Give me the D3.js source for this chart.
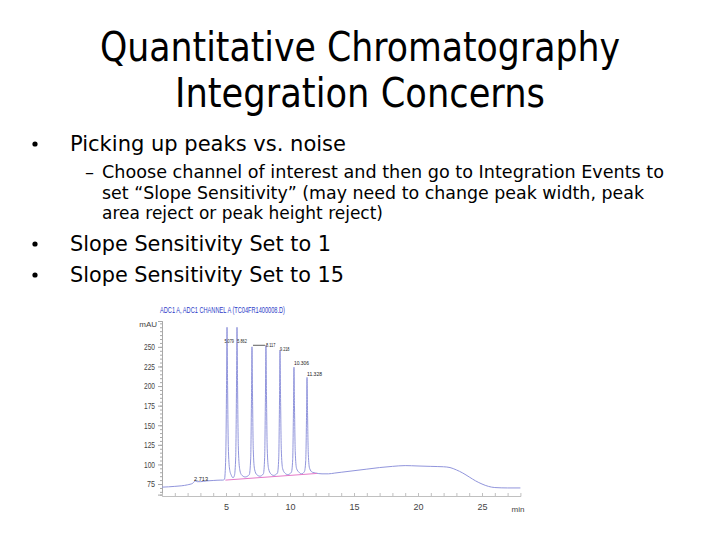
<!DOCTYPE html>
<html>
<head>
<meta charset="utf-8">
<script src="https://cdn.jsdelivr.net/npm/d3@7"></script>
<style>
  body { margin: 0; background: #fff; }
  svg { display: block; }
</style>
</head>
<body>
<div id="chartgoeshere"></div>
<script>
// Slide text
var titleLines = ["Quantitative Chromatography", "Integration Concerns"];
var bullets = ["Picking up peaks vs. noise", "Slope Sensitivity Set to 1", "Slope Sensitivity Set to 15"];
var subLines = [
  "Choose channel of interest and then go to Integration Events to",
  "set \u201cSlope Sensitivity\u201d (may need to change peak width, peak",
  "area reject or peak height reject)"
];

// Chromatogram trace (min, mAU)
var traceTime = [0, 1, 2, 2.4, 2.6, 2.75, 3.0, 3.5, 4.0, 4.6,
  4.75, 4.88, 4.98, 5.04, 5.08, 5.12, 5.18, 5.28, 5.42,
  5.55, 5.66, 5.76, 5.82, 5.86, 5.90, 5.96, 6.06, 6.2,
  6.5, 6.82, 6.93, 6.99, 7.03, 7.07, 7.13, 7.23, 7.4,
  7.65, 7.92, 8.02, 8.08, 8.12, 8.16, 8.22, 8.32, 8.5,
  8.72, 9.02, 9.12, 9.18, 9.22, 9.26, 9.32, 9.42, 9.6,
  9.82, 10.11, 10.21, 10.27, 10.31, 10.35, 10.41, 10.51, 10.7,
  10.9, 11.13, 11.23, 11.29, 11.33, 11.37, 11.43, 11.53, 11.75,
  12.0, 12.5, 13.0, 13.5, 14, 15, 16, 17, 18, 19, 20, 21, 22, 22.5,
  23, 23.5, 24, 24.5, 25, 25.5, 26, 27, 28];
var traceSignal = [71, 72, 74, 76, 79, 78, 78, 79, 79.5, 80,
  80, 81, 109, 197, 275, 207, 123, 94, 86,
  83, 86, 110, 198, 275, 207, 124, 95, 87,
  84, 87, 108, 183, 250, 191, 119, 94, 87,
  85, 88, 109, 185, 252, 193, 120, 95, 88,
  86, 89, 108, 181, 246, 189, 119, 95, 89,
  87, 90, 106, 168, 224, 175, 116, 95, 90,
  88, 91, 105, 160, 211, 166, 113, 95, 90,
  89, 88, 88, 89, 90, 92, 94, 96, 97.5, 98.5, 98, 97.5, 97, 96,
  93, 89, 84, 79, 75, 72, 70.5, 70, 70];

// Integration baseline start / end (min, mAU)
var baseTime = [4.95, 12.1];
var baseSignal = [80, 88.5];

// Peak labels (retention times)
var peakTimes = [4.88, 5.88, 7.03, 8.117, 9.218, 10.306, 11.328];
var peakLabels = ["5.079", "5.862", "", "8.117", "9.218", "10.306", "11.328"];
var labelSignal = [257, 257, 252, 252, 247, 229, 216];
var bumpTime = 2.5, bumpSignal = 81, bumpLabel = "2.713";

var yTicks = [75, 100, 125, 150, 175, 200, 225, 250];
var xTicks = [5, 10, 15, 20, 25];

var width = 720, height = 540;
var svg = d3.select("#chartgoeshere").append("svg")
  .attr("width", width).attr("height", height);

var slideFont = "Tahoma, 'DejaVu Sans', sans-serif";

// Title
svg.selectAll(".title")
  .data(titleLines)
  .enter().append("text")
  .attr("x", 360)
  .attr("y", function (d, i) { return 61 + i * 46; })
  .attr("text-anchor", "middle")
  .attr("font-family", slideFont)
  .attr("font-size", 40)
  .attr("textLength", function (d, i) { return i === 0 ? 520 : 370; })
  .attr("lengthAdjust", "spacingAndGlyphs")
  .text(function (d) { return d; });

// Main bullets
var bulletY = [151, 251, 282];
var bulletW = [276, 261, 274];
bullets.forEach(function (b, i) {
  svg.append("circle").attr("cx", 35).attr("cy", bulletY[i] - 7).attr("r", 2.6).attr("fill", "#000");
  svg.append("text")
    .attr("x", 70).attr("y", bulletY[i])
    .attr("font-family", slideFont).attr("font-size", 22)
    .attr("textLength", bulletW[i]).attr("lengthAdjust", "spacingAndGlyphs")
    .text(b);
});

// Sub bullet
var subY = [178, 199, 219];
var subW = [562, 542, 281];
svg.append("text").attr("x", 85).attr("y", subY[0])
  .attr("font-family", slideFont).attr("font-size", 18).text("\u2013");
subLines.forEach(function (s, i) {
  svg.append("text")
    .attr("x", 102).attr("y", subY[i])
    .attr("font-family", slideFont).attr("font-size", 18)
    .attr("textLength", subW[i]).attr("lengthAdjust", "spacingAndGlyphs")
    .text(s);
});

// Chromatogram scales
var x = d3.scaleLinear().domain([0, 28]).range([162, 520.4]);
var y = d3.scaleLinear().domain([61.5, 283]).range([494.6, 321]);

var chartFont = "Arial, 'Liberation Sans', sans-serif";

// Y axis with minor ticks
var gy = svg.append("g").attr("transform", "translate(162,0)");
gy.call(d3.axisLeft(y).tickValues(d3.range(65, 281, 5)).tickSize(2).tickFormat(""));
gy.append("g").call(d3.axisLeft(y).tickValues(yTicks).tickSize(4).tickFormat(d3.format("d")));
gy.selectAll("path, line").attr("stroke", "#a8a8a8");
gy.selectAll("text").attr("fill", "#444").attr("font-size", 9).attr("font-family", chartFont)
  .attr("textLength", function (d) { return d >= 100 ? 11 : 8; }).attr("lengthAdjust", "spacingAndGlyphs");
svg.append("text").attr("x", 157).attr("y", 327).attr("text-anchor", "end")
  .attr("font-family", chartFont).attr("font-size", 8).attr("fill", "#444").text("mAU");

// X axis
var gx = svg.append("g").attr("transform", "translate(0,496)");
gx.call(d3.axisBottom(x).tickValues(d3.range(1, 28, 1)).tickSize(-3).tickFormat(""));
gx.append("g").call(d3.axisBottom(x).tickValues(xTicks).tickSize(0).tickPadding(8).tickFormat(d3.format("d")));
gx.selectAll("path, line").attr("stroke", "#c0c0c0");
gx.selectAll("text").attr("fill", "#444").attr("font-size", 9).attr("font-family", chartFont);
svg.append("text").attr("x", 518).attr("y", 512).attr("text-anchor", "middle")
  .attr("font-family", chartFont).attr("font-size", 8).attr("fill", "#444").text("min");

// Signal header
svg.append("text").attr("x", 160).attr("y", 313)
  .attr("font-family", chartFont).attr("font-size", 9).attr("fill", "#2b3bc8")
  .attr("textLength", 125).attr("lengthAdjust", "spacingAndGlyphs")
  .text("ADC1 A, ADC1 CHANNEL A (TC04FR1400008.D)");

// Trace
var pts = traceTime.map(function (t, i) { return [t, traceSignal[i]]; });
var line = d3.line()
  .x(function (d) { return x(d[0]); })
  .y(function (d) { return y(d[1]); })
  .curve(d3.curveMonotoneX);
svg.append("path").datum(pts)
  .attr("d", line)
  .attr("fill", "none")
  .attr("stroke", "#9195dc")
  .attr("stroke-width", 1);

// Integration baseline
svg.append("path")
  .datum(baseTime.map(function (t, i) { return [t, baseSignal[i]]; }))
  .attr("d", d3.line().x(function (d) { return x(d[0]); }).y(function (d) { return y(d[1]); }))
  .attr("stroke", "#e47ac8").attr("stroke-width", 1).attr("fill", "none");

// Peak labels
peakTimes.forEach(function (t, i) {
  if (peakLabels[i] === "") {
    svg.append("line")
      .attr("x1", x(t) + 1).attr("x2", x(t) + 13)
      .attr("y1", y(labelSignal[i])).attr("y2", y(labelSignal[i]))
      .attr("stroke", "#333").attr("stroke-width", 0.8);
  } else {
    svg.append("text")
      .attr("x", x(t)).attr("y", y(labelSignal[i]) + 2)
      .attr("font-family", chartFont).attr("font-size", 5.5).attr("fill", "#222")
      .attr("textLength", peakLabels[i].length > 5 ? 15 : 9.5).attr("lengthAdjust", "spacingAndGlyphs")
      .text(peakLabels[i]);
  }
});
svg.append("text")
  .attr("x", x(bumpTime)).attr("y", y(bumpSignal) + 2)
  .attr("font-family", chartFont).attr("font-size", 6).attr("fill", "#222")
  .attr("textLength", 14).attr("lengthAdjust", "spacingAndGlyphs")
  .text(bumpLabel);
</script>
</body>
</html>
